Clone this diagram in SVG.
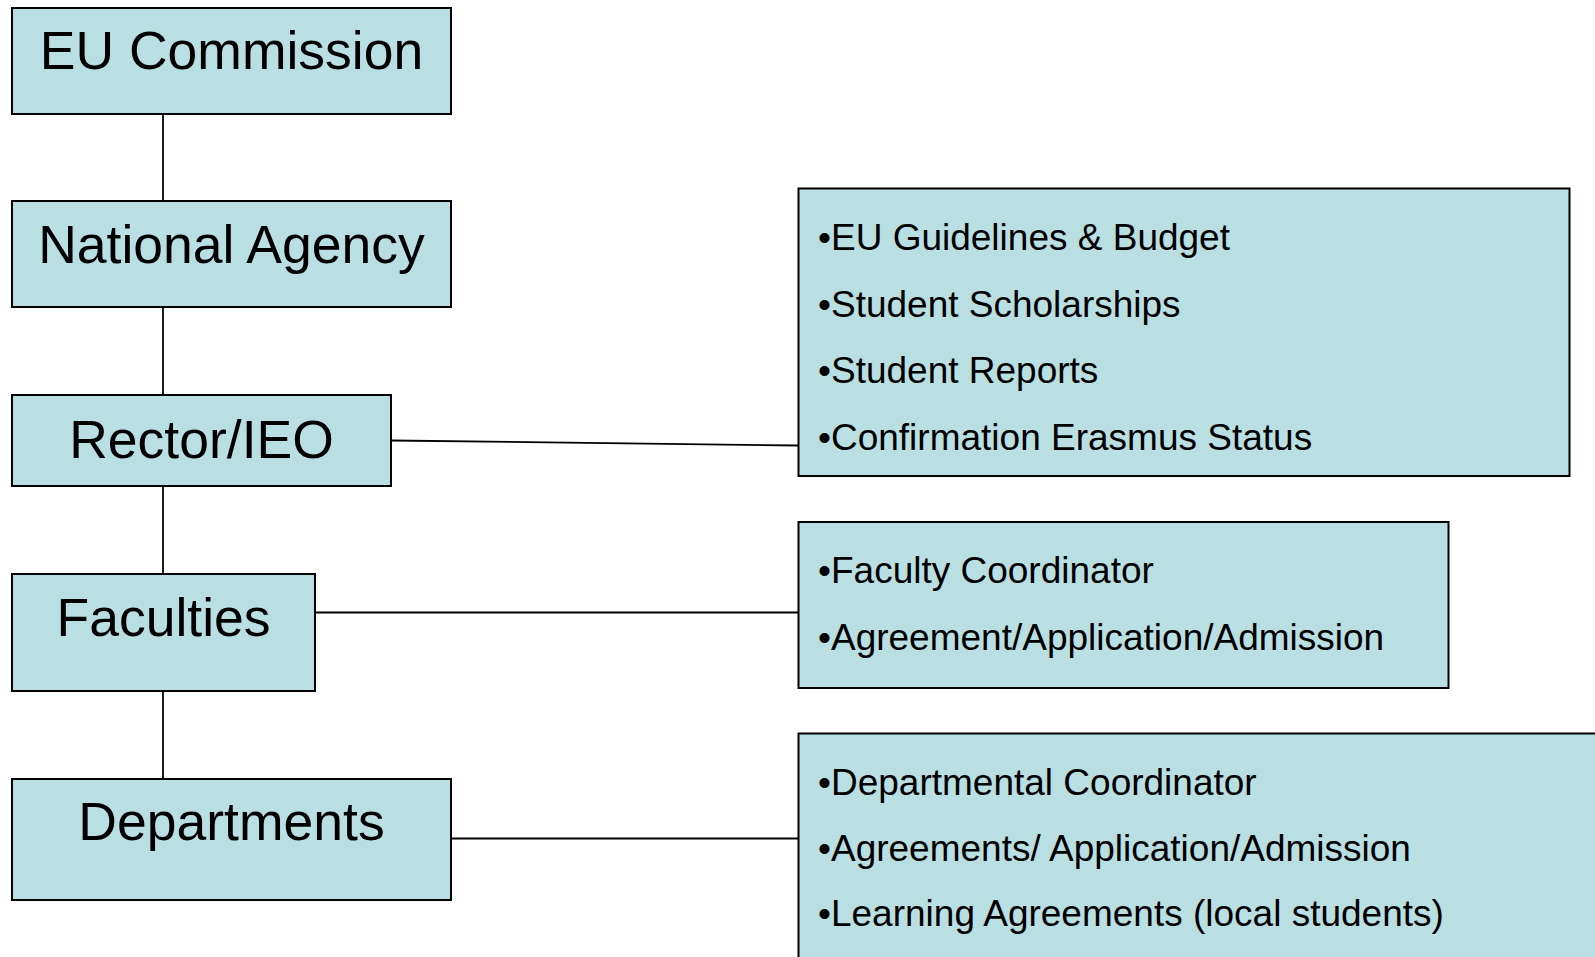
<svg xmlns="http://www.w3.org/2000/svg" width="1595" height="957" viewBox="0 0 1595 957">
<style>
.box{fill:#b9dfe3;stroke:#000;stroke-width:2}
.lt{font-family:"Liberation Sans",Arial,sans-serif;font-size:53.5px;fill:#000;text-anchor:middle}
.bt{font-family:"Liberation Sans",Arial,sans-serif;font-size:37px;fill:#000}
.ln{stroke:#000;stroke-width:1.8;fill:none}
</style>
<rect width="1595" height="957" fill="#fff"/>
<g id="connectors">
<line class="ln" x1="163" y1="114" x2="163" y2="201"/>
<line class="ln" x1="163" y1="307" x2="163" y2="395"/>
<line class="ln" x1="163" y1="486" x2="163" y2="574"/>
<line class="ln" x1="163" y1="691" x2="163" y2="779"/>
<line class="ln" x1="391" y1="440.5" x2="798.5" y2="445.5"/>
<line class="ln" x1="315" y1="612.5" x2="798.5" y2="612.5"/>
<line class="ln" x1="451" y1="838.5" x2="798.5" y2="838.5"/>
</g>
<g id="eu-commission">
<rect class="box" x="12" y="8" width="439" height="106"/>
<text class="lt" x="231.5" y="69">EU Commission</text>
</g>
<g id="national-agency">
<rect class="box" x="12" y="201" width="439" height="106"/>
<text class="lt" x="231.5" y="263">National Agency</text>
</g>
<g id="rector-ieo">
<rect class="box" x="12" y="395" width="379" height="91"/>
<text class="lt" x="201.5" y="457.5">Rector/IEO</text>
</g>
<g id="faculties">
<rect class="box" x="12" y="574" width="303" height="117"/>
<text class="lt" x="163.5" y="636">Faculties</text>
</g>
<g id="departments">
<rect class="box" x="12" y="779" width="439" height="121"/>
<text class="lt" x="231.5" y="840">Departments</text>
</g>
<g id="rector-tasks">
<rect class="box" x="798.5" y="188.5" width="771" height="287.5"/>
<text class="bt" x="818" y="249.5">•EU Guidelines &amp; Budget</text>
<text class="bt" x="818" y="316.5">•Student Scholarships</text>
<text class="bt" x="818" y="383">•Student Reports</text>
<text class="bt" x="818" y="450">•Confirmation Erasmus Status</text>
</g>
<g id="faculty-tasks">
<rect class="box" x="798.5" y="522" width="650" height="166"/>
<text class="bt" x="818" y="582.5">•Faculty Coordinator</text>
<text class="bt" x="818" y="649.5">•Agreement/Application/Admission</text>
</g>
<g id="department-tasks">
<rect class="box" x="798.5" y="733.5" width="820" height="250"/>
<text class="bt" x="818" y="795">•Departmental Coordinator</text>
<text class="bt" x="818" y="861">•Agreements/ Application/Admission</text>
<text class="bt" x="818" y="926">•Learning Agreements (local students)</text>
</g>
</svg>
